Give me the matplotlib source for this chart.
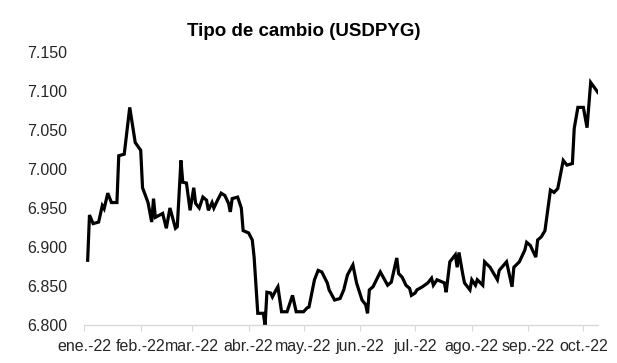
import matplotlib
matplotlib.use("Agg")
import matplotlib.pyplot as plt
import matplotlib.dates as mdates
import numpy as np
import pandas as pd

plt.rcParams['font.family'] = ['Liberation Sans', 'DejaVu Sans']

title = "Tipo de cambio (USDPYG)"

dates = [
    "2022-01-03", "2022-01-04", "2022-01-06", "2022-01-09", "2022-01-11", "2022-01-12",
    "2022-01-14", "2022-01-16", "2022-01-19", "2022-01-20", "2022-01-23", "2022-01-26",
    "2022-01-29", "2022-02-01", "2022-02-02", "2022-02-05", "2022-02-07", "2022-02-08",
    "2022-02-09", "2022-02-13", "2022-02-15", "2022-02-17", "2022-02-20", "2022-02-21",
    "2022-02-23", "2022-02-24", "2022-02-26", "2022-02-28", "2022-03-02", "2022-03-03",
    "2022-03-05", "2022-03-07", "2022-03-09", "2022-03-10", "2022-03-12", "2022-03-13",
    "2022-03-15", "2022-03-17", "2022-03-19", "2022-03-21", "2022-03-22", "2022-03-23",
    "2022-03-26", "2022-03-28", "2022-03-29", "2022-04-01", "2022-04-03", "2022-04-04",
    "2022-04-06", "2022-04-09", "2022-04-10", "2022-04-11", "2022-04-13", "2022-04-14",
    "2022-04-16", "2022-04-17", "2022-04-19", "2022-04-22", "2022-04-25", "2022-04-27",
    "2022-05-01", "2022-05-03", "2022-05-04", "2022-05-07", "2022-05-09", "2022-05-11",
    "2022-05-14", "2022-05-15", "2022-05-18", "2022-05-21", "2022-05-23", "2022-05-25",
    "2022-05-28", "2022-05-30", "2022-06-02", "2022-06-04", "2022-06-05", "2022-06-06",
    "2022-06-08", "2022-06-12", "2022-06-16", "2022-06-18", "2022-06-21", "2022-06-22",
    "2022-06-24", "2022-06-26", "2022-06-28", "2022-06-29", "2022-07-01", "2022-07-02",
    "2022-07-05", "2022-07-08", "2022-07-10", "2022-07-11", "2022-07-13", "2022-07-16",
    "2022-07-17", "2022-07-18", "2022-07-20", "2022-07-23", "2022-07-24", "2022-07-25",
    "2022-07-27", "2022-07-28", "2022-07-31", "2022-08-01", "2022-08-03", "2022-08-04",
    "2022-08-07", "2022-08-08", "2022-08-11", "2022-08-15", "2022-08-16", "2022-08-20",
    "2022-08-23", "2022-08-24", "2022-08-27", "2022-08-30", "2022-08-31", "2022-09-02",
    "2022-09-05", "2022-09-06", "2022-09-08", "2022-09-10", "2022-09-13", "2022-09-15",
    "2022-09-17", "2022-09-20", "2022-09-22", "2022-09-25", "2022-09-26", "2022-09-28",
    "2022-10-01", "2022-10-03", "2022-10-05", "2022-10-09",
]

values = [
    6.883, 6.941, 6.930, 6.932, 6.953, 6.949,
    6.969, 6.957, 6.957, 7.017, 7.019, 7.079,
    7.034, 7.024, 6.976, 6.957, 6.932, 6.962,
    6.938, 6.943, 6.924, 6.950, 6.924, 6.926,
    7.011, 6.983, 6.982, 6.947, 6.976, 6.956,
    6.950, 6.964, 6.960, 6.947, 6.957, 6.950,
    6.960, 6.969, 6.966, 6.956, 6.945, 6.962,
    6.964, 6.950, 6.921, 6.918, 6.909, 6.887,
    6.815, 6.815, 6.800, 6.842, 6.841, 6.836,
    6.845, 6.849, 6.817, 6.817, 6.838, 6.817,
    6.817, 6.822, 6.823, 6.858, 6.870, 6.868,
    6.854, 6.845, 6.832, 6.834, 6.845, 6.864,
    6.877, 6.854, 6.832, 6.826, 6.815, 6.845,
    6.849, 6.868, 6.851, 6.855, 6.886, 6.866,
    6.861, 6.851, 6.847, 6.838, 6.841, 6.845,
    6.849, 6.854, 6.860, 6.851, 6.858, 6.855,
    6.854, 6.842, 6.881, 6.890, 6.874, 6.893,
    6.866, 6.854, 6.845, 6.858, 6.851, 6.858,
    6.851, 6.881, 6.874, 6.858, 6.870, 6.881,
    6.849, 6.874, 6.881, 6.896, 6.906, 6.902,
    6.887, 6.909, 6.913, 6.921, 6.973, 6.970,
    6.975, 7.011, 7.005, 7.007, 7.052, 7.079,
    7.079, 7.053, 7.111, 7.098,
]

month_ticks = ["2022-01-01", "2022-02-01", "2022-03-01", "2022-04-01", "2022-05-01",
               "2022-06-01", "2022-07-01", "2022-08-01", "2022-09-01", "2022-10-01"]
month_labels = ["ene.-22", "feb.-22", "mar.-22", "abr.-22", "may.-22",
                "jun.-22", "jul.-22", "ago.-22", "sep.-22", "oct.-22"]
y_ticks = [6.800, 6.850, 6.900, 6.950, 7.000, 7.050, 7.100, 7.150]

x = pd.to_datetime(dates)

fig = plt.figure(figsize=(6.17, 3.63), dpi=100)
ax = fig.add_axes([84/617, 1 - 325/363, (598 - 84)/617, (325 - 52)/363])

ax.plot(x, values, color="black", linewidth=2.3, solid_joinstyle="miter")

ax.set_xlim(pd.Timestamp("2022-01-01"), pd.Timestamp("2022-10-09"))
ax.set_ylim(6.800, 7.150)
ax.set_yticks(y_ticks)
ax.set_yticklabels([f"{v:.3f}" for v in y_ticks])
ax.set_xticks(pd.to_datetime(month_ticks))
ax.set_xticklabels(month_labels)

for s in ["top", "right", "left"]:
    ax.spines[s].set_visible(False)
ax.spines["bottom"].set_color("#d9d9d9")
ax.spines["bottom"].set_linewidth(1.0)

ax.tick_params(axis="y", length=0, pad=12, labelsize=11.5, labelcolor="#262626")
ax.tick_params(axis="x", length=4, color="#d9d9d9", pad=6, labelsize=11.5, labelcolor="#262626")

fig.text(0.493, 1 - 32/363, title, ha="center", va="center", fontsize=13.5,
         fontweight="bold", color="black")

fig.savefig("out.png", dpi=100)
